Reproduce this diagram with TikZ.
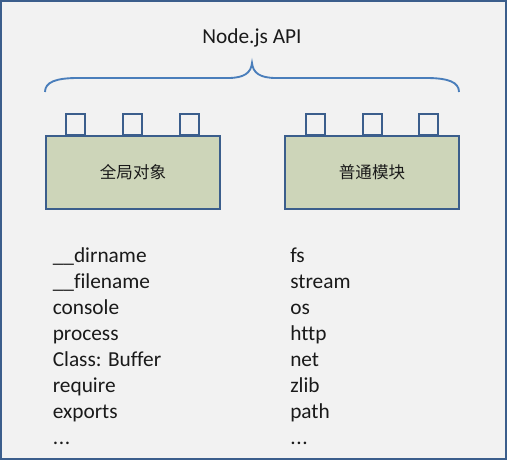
\documentclass[tikz,border=0pt]{standalone}
\usepackage{fontspec}
\setmainfont[Ligatures=NoCommon]{Carlito}
\newfontfamily\cjk{Noto Sans CJK SC}
\definecolor{bgc}{HTML}{F2F2F2}
\definecolor{framec}{HTML}{3B5E8C}
\definecolor{bracec}{HTML}{4A7EBB}
\definecolor{boxfill}{HTML}{CDD5B9}
\definecolor{txtc}{HTML}{1A1A1A}
\newcommand\mydotsthree{.\kern0.5pt.\kern0.5pt.}
\begin{document}
\begin{tikzpicture}[x=0.75pt,y=-0.75pt,
  modbox/.style={draw=framec,line width=1.5pt,fill=boxfill,minimum width=174*0.75pt,minimum height=73*0.75pt,inner sep=0pt,font=\cjk\fontsize{12.4pt}{14pt}\selectfont,text=txtc},
  tab/.style={draw=framec,line width=1.5pt,fill=bgc,minimum width=19*0.75pt,minimum height=21*0.75pt,inner sep=0pt,anchor=south},
  item/.style={anchor=base west,inner sep=0pt,font=\fontsize{16pt}{19pt}\selectfont,text=txtc},
  bracepath/.style={draw=bracec,line width=1.4pt}]
\useasboundingbox (0,0) rectangle (507,460);
\fill[bgc] (0,0) rectangle (507,460);
\draw[framec,line width=1.5pt] (1,1) rectangle (506,459);
% title
\node[anchor=base,inner sep=0pt,font=\fontsize{16pt}{19pt}\selectfont,text=txtc] (title) at (252,43.5) {Node.js API};
% brace
\draw[bracepath] (45,92) .. controls (45,82) and (56,78) .. (78,78) -- (228,78)
  .. controls (244,78) and (251,73) .. (252,63)
  .. controls (253,73) and (260,78) .. (276,78) -- (426,78)
  .. controls (448,78) and (459,82) .. (459,92);
% tabs
\foreach \tx [count=\i] in {75.5,132.5,189.5}{\node[tab] (lt\i) at (\tx,136) {};}
\foreach \tx [count=\i] in {315,372,428.5}{\node[tab] (rt\i) at (\tx,136) {};}
% boxes
\node[modbox] (global) at (133,172.5) {全局对象};
\node[modbox] (modules) at (372,172.5) {普通模块};
% lists
\foreach \t [count=\i from 0] in {\_\_dirname,\_\_filename,console,process,Class: Buffer,require,exports,\mydotsthree}{
  \node[item] (g\i) at (52.5,262+26*\i) {\t};}
\foreach \t [count=\i from 0] in {fs,stream,os,http,net,zlib,path,\mydotsthree}{
  \node[item] (m\i) at (290,262+26*\i) {\t};}
\end{tikzpicture}
\end{document}
